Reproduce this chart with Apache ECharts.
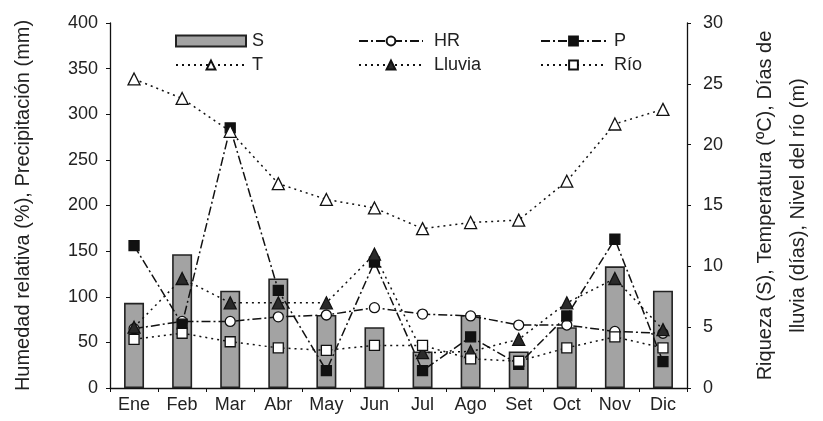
<!DOCTYPE html>
<html>
<head>
<meta charset="utf-8">
<script src="https://cdn.jsdelivr.net/npm/echarts@6/dist/echarts.min.js"></script>
<style>
  html, body { margin: 0; padding: 0; background: #fff; }
  #chart { width: 823px; height: 421px; }
</style>
</head>
<body>
<div id="chart"></div>
<script>
var meses = ['Ene', 'Feb', 'Mar', 'Abr', 'May', 'Jun', 'Jul', 'Ago', 'Set', 'Oct', 'Nov', 'Dic']
// eje izquierdo: HR (%), P (mm)
var hr = [65, 73, 73, 78, 80, 88, 81, 79, 69, 69, 62, 60]
var precip = [156, 70, 285, 107, 19, 138, 19, 56, 26, 79, 163, 29]
// eje derecho: S, T (ºC), Lluvia (días), Río (m)
var riqueza = [7, 11, 8, 9, 6, 5, 3, 6, 3, 5, 10, 8]
var temp = [25.4, 23.8, 21.1, 16.8, 15.5, 14.8, 13.1, 13.6, 13.8, 17.0, 21.7, 22.9]
var lluvia = [5, 9, 7, 7, 7, 11, 2.9, 3, 4, 7, 9, 4.8]
var rio = [4, 4.5, 3.8, 3.3, 3.1, 3.5, 3.5, 2.4, 2.2, 3.3, 4.2, 3.3]

var font = 'Liberation Sans, Arial, sans-serif'
var dashDot = [9, 3, 2, 3]
var dotted = [2, 4]

var chart = echarts.init(document.getElementById('chart'))

function lineSerie(name, data, axis, symbol, fill, dash) {
  return {
    name: name,
    type: 'line',
    yAxisIndex: axis,
    data: data,
    symbol: symbol,
    symbolSize: symbol === 'triangle' ? 12 : 10,
    showAllSymbol: true,
    animation: false,
    itemStyle: { color: fill, borderColor: '#111', borderWidth: 1.3 },
    lineStyle: { color: '#111', width: 1.5, type: dash },
    z: 3
  }
}

function legendCol(left, items, width, pad) {
  return {
    orient: 'vertical',
    left: left,
    top: 27,
    itemGap: 6,
    itemWidth: width,
    itemHeight: 11,
    data: items,
    textStyle: { fontFamily: font, fontSize: 18, color: '#222', padding: [0, 0, 0, pad] }
  }
}

var option = {
  backgroundColor: '#fff',
  textStyle: { fontFamily: font },
  grid: { left: 110, right: 123, top: 23, bottom: 33 },
  legend: [
    legendCol(170, [{ name: 'S', icon: 'rect' }, 'T'], 70, 1),
    legendCol(353, ['HR', 'Lluvia'], 64, 6),
    legendCol(535, ['P', 'Río'], 65, 3)
  ],
  xAxis: {
    type: 'category',
    data: meses,
    axisLine: { lineStyle: { color: '#111', width: 1.3 } },
    axisTick: { show: true, length: 4, lineStyle: { color: '#111' } },
    axisLabel: { color: '#222', fontSize: 18, fontFamily: font, margin: 8 }
  },
  yAxis: [
    {
      type: 'value',
      min: 0,
      max: 400,
      interval: 50,
      name: 'Humedad relativa (%), Precipitación (mm)',
      nameLocation: 'middle',
      nameGap: 77,
      nameTextStyle: { color: '#222', fontSize: 20, fontFamily: font },
      splitLine: { show: false },
      axisLine: { show: true, lineStyle: { color: '#111', width: 1.3 } },
      axisTick: { show: true, length: 4, lineStyle: { color: '#111' } },
      axisLabel: { color: '#222', fontSize: 18, fontFamily: font, margin: 12 }
    },
    {
      type: 'value',
      min: 0,
      max: 30,
      interval: 5,
      position: 'right',
      name: 'Riqueza (S), Temperatura (ºC), Días de\nlluvia (días), Nivel del río (m)',
      nameLocation: 'middle',
      nameGap: 62,
      nameTextStyle: { color: '#222', fontSize: 20, fontFamily: font, lineHeight: 33 },
      splitLine: { show: false },
      axisLine: { show: true, lineStyle: { color: '#111', width: 1.3 } },
      axisTick: { show: true, length: 4, lineStyle: { color: '#111' } },
      axisLabel: { color: '#222', fontSize: 18, fontFamily: font, margin: 16 }
    }
  ],
  series: [
    {
      name: 'S',
      type: 'bar',
      yAxisIndex: 1,
      data: riqueza,
      barWidth: 20,
      animation: false,
      itemStyle: { color: '#a3a3a3', borderColor: '#222', borderWidth: 1.6 },
      z: 1
    },
    lineSerie('HR', hr, 0, 'circle', '#fff', dashDot),
    lineSerie('P', precip, 0, 'rect', '#111', dashDot),
    lineSerie('T', temp, 1, 'triangle', '#fff', dotted),
    lineSerie('Lluvia', lluvia, 1, 'triangle', '#2a2a2a', dotted),
    lineSerie('Río', rio, 1, 'rect', '#fff', dotted)
  ]
}

chart.setOption(option)
</script>
</body>
</html>
